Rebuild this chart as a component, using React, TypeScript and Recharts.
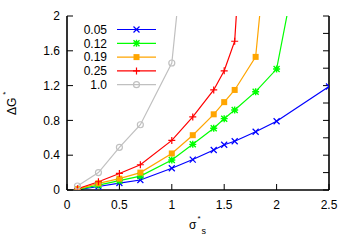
import { Label, Legend, Line, LineChart, XAxis, YAxis } from 'recharts'

const sigma = [0.1, 0.3, 0.5, 0.7, 1.0, 1.2, 1.4, 1.5, 1.6, 1.8, 2.0, 2.5]
const dg005 = [0.003, 0.04, 0.08, 0.115, 0.25, 0.35, 0.46, 0.52, 0.56, 0.67, 0.79, 1.19]
const dg012 = [0.005, 0.057, 0.107, 0.16, 0.345, 0.525, 0.71, 0.82, 0.92, 1.13, 1.39, 4.5]
const dg019 = [0.01, 0.077, 0.13, 0.2, 0.42, 0.63, 0.87, 1.01, 1.15, 1.53, 4.0]
const dg025 = [0.015, 0.095, 0.19, 0.29, 0.57, 0.84, 1.15, 1.37, 1.71, 5.5]
const dg100 = [0.046, 0.2, 0.49, 0.75, 1.46, 3.8]

const xTicks = [0, 0.5, 1, 1.5, 2, 2.5]
const yTicks = [0, 0.2, 0.4, 0.6, 0.8, 1, 1.2, 1.4, 1.6, 1.8, 2]

type Shape = 'cross' | 'star' | 'square' | 'plus' | 'circle'

const series: { name: string; color: string; shape: Shape; values: number[] }[] = [
  { name: '0.05', color: '#0000ff', shape: 'cross', values: dg005 },
  { name: '0.12', color: '#00ff00', shape: 'star', values: dg012 },
  { name: '0.19', color: '#ffa500', shape: 'square', values: dg019 },
  { name: '0.25', color: '#ff0000', shape: 'plus', values: dg025 },
  { name: '1.0', color: '#c0c0c0', shape: 'circle', values: dg100 },
]

const font = '"Liberation Sans", Arial, sans-serif'

const Marker = ({ x, y, color, shape }: { x: number; y: number; color: string; shape: Shape }) => {
  const r = 3
  switch (shape) {
    case 'cross':
      return <path d={`M${x - r},${y - r}L${x + r},${y + r}M${x - r},${y + r}L${x + r},${y - r}`} stroke={color} strokeWidth={1.2} />
    case 'star':
      return (
        <path
          d={`M${x - r},${y - r}L${x + r},${y + r}M${x - r},${y + r}L${x + r},${y - r}M${x - r - 0.5},${y}L${x + r + 0.5},${y}M${x},${y - r - 0.5}L${x},${y + r + 0.5}`}
          stroke={color}
          strokeWidth={1.4}
        />
      )
    case 'square':
      return <rect x={x - r} y={y - r} width={2 * r} height={2 * r} fill={color} />
    case 'plus':
      return <path d={`M${x - r - 0.5},${y}L${x + r + 0.5},${y}M${x},${y - r - 0.5}L${x},${y + r + 0.5}`} stroke={color} strokeWidth={1.2} />
    default:
      return <circle cx={x} cy={y} r={r} fill="none" stroke={color} strokeWidth={1.2} />
  }
}

const renderDot = (color: string, shape: Shape) => (props: any) => {
  const { cx, cy, index } = props
  if (cx == null || cy == null) return <g key={`${shape}-${index}`} />
  return (
    <g key={`${shape}-${index}`}>
      <Marker x={cx} y={cy} color={color} shape={shape} />
    </g>
  )
}

const LegendBox = () => (
  <svg width={170} height={100} style={{ display: 'block' }}>
    {series.map((s, i) => {
      const y = 29.5 + i * 13.8
      return (
        <g key={s.name}>
          <text x={107} y={y + 4.3} textAnchor="end" fontSize={12} fontFamily={font} fill="#000">
            {s.name}
          </text>
          <line x1={117} x2={156} y1={y} y2={y} stroke={s.color} strokeWidth={1.2} />
          <Marker x={136.5} y={y} color={s.color} shape={s.shape} />
        </g>
      )
    })}
  </svg>
)

const XTitle = () => (
  <g fontFamily={font} fill="#000">
    <text x={189} y={228.5} fontSize={12}>σ</text>
    <text x={197.5} y={221} fontSize={8}>*</text>
    <text x={201.5} y={233.5} fontSize={9}>s</text>
  </g>
)

const YTitle = () => (
  <text transform="translate(16,115) rotate(-90)" fontSize={12} fontFamily={font} fill="#000">
    ΔG
    <tspan dx={3} dy={-8} fontSize={8}>*</tspan>
  </text>
)

const axisLine = { stroke: '#000', strokeWidth: 1.6 }
const tickLine = { stroke: '#000', strokeWidth: 1 }
const tickStyle = { fontSize: 12, fill: '#000', fontFamily: font }

export default function App() {
  return (
    <div style={{ position: 'absolute', left: 0, top: 0, width: 354, height: 248, background: '#fff' }}>
      <LineChart width={354} height={248} margin={{ top: 16, right: 0, bottom: 0, left: 0 }} style={{ fontFamily: font }}>
        <XAxis
          xAxisId="bottom"
          type="number"
          dataKey="s"
          domain={[0, 2.5]}
          ticks={xTicks}
          allowDataOverflow
          height={58}
          axisLine={axisLine}
          tickLine={tickLine}
          tickSize={-6}
          tickMargin={16}
          tick={tickStyle}
        >
          <Label content={() => <XTitle />} />
        </XAxis>
        <XAxis
          xAxisId="top"
          orientation="top"
          type="number"
          domain={[0, 2.5]}
          ticks={xTicks}
          allowDataOverflow
          height={0}
          axisLine={axisLine}
          tickLine={tickLine}
          tickSize={-6}
          tickFormatter={() => ''}
        />
        <YAxis
          yAxisId="left"
          type="number"
          domain={[0, 2]}
          ticks={yTicks}
          allowDataOverflow
          width={67}
          axisLine={axisLine}
          tickLine={tickLine}
          tickSize={-6}
          tickMargin={13}
          tick={tickStyle}
        >
          <Label content={() => <YTitle />} />
        </YAxis>
        <YAxis
          yAxisId="right"
          orientation="right"
          type="number"
          domain={[0, 2]}
          ticks={yTicks}
          allowDataOverflow
          width={25}
          axisLine={axisLine}
          tickLine={tickLine}
          tickSize={-6}
          tickFormatter={() => ''}
        />
        <Legend
          layout="vertical"
          align="center"
          verticalAlign="middle"
          content={() => <LegendBox />}
          wrapperStyle={{ left: 0, top: 0, width: 170, height: 100 }}
        />
        {series.map((s) => (
          <Line
            key={s.name}
            name={s.name}
            xAxisId="bottom"
            yAxisId="left"
            data={s.values.map((g, i) => ({ s: sigma[i], g }))}
            dataKey="g"
            type="linear"
            stroke={s.color}
            strokeWidth={1.2}
            dot={renderDot(s.color, s.shape)}
            activeDot={false}
            isAnimationActive={false}
          />
        ))}
      </LineChart>
    </div>
  )
}
